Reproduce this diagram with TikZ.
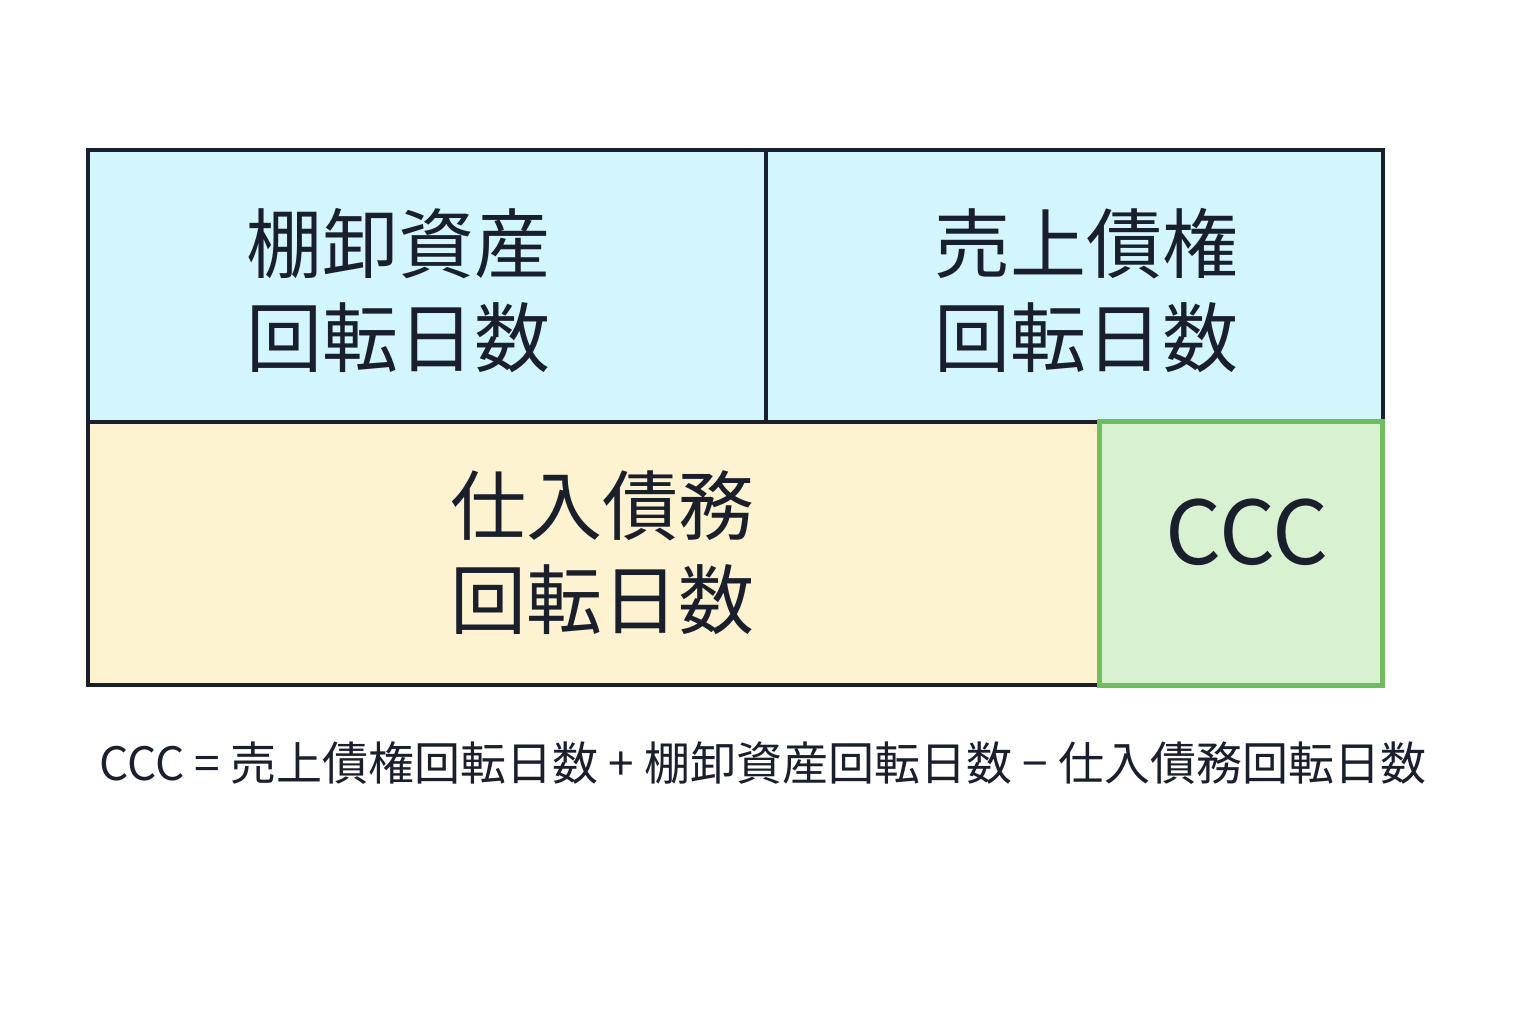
\documentclass[tikz,border=0pt]{standalone}
\usepackage{fontspec}
\setmainfont{Noto Sans CJK JP}
\definecolor{cy}{HTML}{D3F5FC}
\definecolor{ye}{HTML}{FDF3D0}
\definecolor{gr}{HTML}{D8F1D0}
\definecolor{gb}{HTML}{6CBF5A}
\definecolor{ink}{HTML}{1A1F2E}
\begin{document}
\begin{tikzpicture}[x=1pt,y=-1pt,
  big/.style={font=\fontsize{76}{94}\selectfont,text=ink,align=center,inner sep=0},
  cell/.style={draw=ink,line width=3.5pt}]
\useasboundingbox (0,0) rectangle (1536,1024);
\fill[white] (0,0) rectangle (1536,1024);
\path[cell,fill=cy] (88,150) rectangle (766,422);
\path[cell,fill=cy] (766,150) rectangle (1383,422);
\path[cell,fill=ye] (88,422) rectangle (1383,685);
\path[fill=gr,draw=gb,line width=5pt] (1099,421) rectangle (1382,685);
\node[big] (a) at (398,291) {棚卸資産\\回転日数};
\node[big] (b) at (1086,291) {売上債権\\回転日数};
\node[big] (c) at (602,553) {仕入債務\\回転日数};
\node[big,font=\fontsize{88}{100}\selectfont] (d) at (1247,532) {CCC};
\node[text=ink,inner sep=0,font=\fontsize{46}{50}\selectfont] (f) at (763,763) {CCC = 売上債権回転日数 + 棚卸資産回転日数 − 仕入債務回転日数};
\end{tikzpicture}
\end{document}
